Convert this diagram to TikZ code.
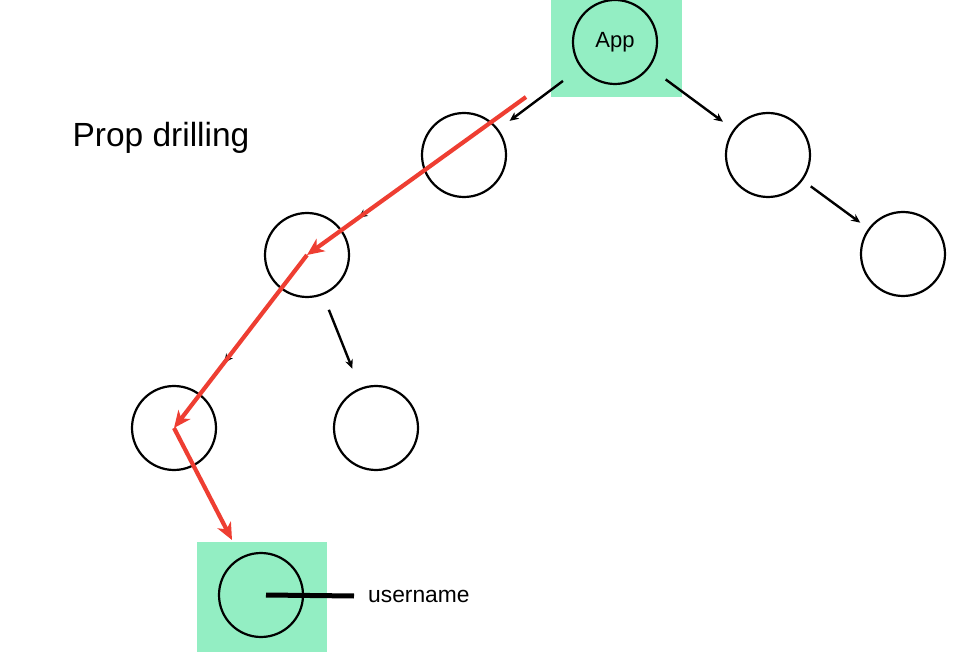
\documentclass[tikz,border=0pt]{standalone}
\usepackage{fontspec}
\setmainfont{Liberation Sans}
\usetikzlibrary{arrows.meta,calc}
\definecolor{mint}{RGB}{147,238,195}
\definecolor{pred}{RGB}{238,62,50}
\begin{document}
\begin{tikzpicture}[x=1pt,y=-1pt,
  comp/.style={circle,draw=black,line width=2.2pt,minimum size=84pt,inner sep=0pt},
  blk/.style={line width=2.4pt,-{Stealth[length=9pt,width=8pt]}},
  redp/.style={draw=pred,line width=4.2pt,-{Stealth[length=17pt,width=15pt,inset=5pt]}}]
\useasboundingbox (0,0) rectangle (978,668);
% green boxes
\fill[mint] (551,0) rectangle (682,97);
\fill[mint] (197,542) rectangle (327,652);
% nodes
\node[comp,font=\fontsize{22}{24}\selectfont] (app) at (615,42) {App};
\node[comp] (l1) at (464,155) {};
\node[comp] (r1) at (768,155) {};
\node[comp] (r2) at (903,254) {};
\node[comp] (l2) at (307,255) {};
\node[comp] (l3l) at (174,428) {};
\node[comp] (l3r) at (376,428) {};
\node[comp] (leaf) at (261,595) {};
\node[font=\fontsize{33.5}{38}\selectfont,anchor=west] (title) at (69,138) {Prop drilling};
\node[font=\fontsize{22.8}{26}\selectfont,anchor=west,inner sep=0pt] (uname) at (368,596) {username};
% red path end points
\coordinate (rs) at (526,97);
\coordinate (re) at (232,540);
% black arrows
\draw[blk,shorten <=65pt,shorten >=57pt] (app.center) -- (l1.center);
\draw[blk,shorten <=63pt,shorten >=56pt] (app.center) -- (r1.center);
\draw[blk,shorten <=53pt,shorten >=53pt] (r1.center) -- (r2.center);
\draw[blk] ($(rs)!0.48!(l2.center)$) -- ($(rs)!0.765!(l2.center)$);
\draw[blk,shorten <=50pt,shorten >=82pt] (l2.center) -- (l3l.center);
\draw[blk,shorten <=59pt,shorten >=64pt] (l2.center) -- (l3r.center);
% username line
\coordinate (ls) at ([xshift=5pt]leaf.center);
\coordinate (le) at ([xshift=-14pt]uname.west);
\draw[line width=5pt] (ls) -- (le);
% red prop drilling path
\draw[redp] (rs) -- (l2.center);
\draw[redp] (l2.center) -- (l3l.center);
\draw[redp] (l3l.center) -- (re);
\end{tikzpicture}
\end{document}
